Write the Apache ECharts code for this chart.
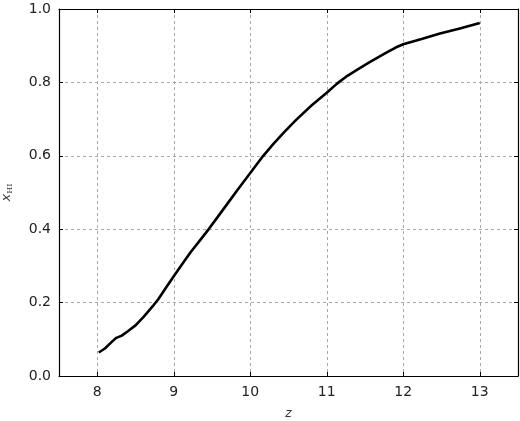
<!DOCTYPE html>
<html>
<head>
<meta charset="UTF-8">
<title>x_HI vs z</title>
<script src="https://cdn.jsdelivr.net/npm/echarts@6/dist/echarts.min.js"></script>
</head>
<body style="margin:0;background:#fff;">
	<div id="chartDiv" style="width: 520px; height: 421px;"></div>
	<script type="text/javascript">
		// redshift and ionized fraction
		var z = [8.02, 8.1, 8.2, 8.25, 8.32, 8.4, 8.5, 8.6, 8.74, 8.8, 8.9,
				9.0, 9.1, 9.22, 9.34, 9.46, 9.58, 9.7, 9.84, 10.0, 10.17,
				10.3, 10.45, 10.6, 10.8, 11.0, 11.13, 11.27, 11.4, 11.55,
				11.75, 11.9, 12.0, 12.24, 12.48, 12.74, 13.0];
		var xHI = [0.064, 0.075, 0.095, 0.104, 0.11, 0.122, 0.138, 0.16,
				0.194, 0.21, 0.241, 0.272, 0.302, 0.337, 0.369, 0.401,
				0.435, 0.469, 0.509, 0.553, 0.6, 0.632, 0.666, 0.698,
				0.737, 0.772, 0.796, 0.818, 0.835, 0.854, 0.878, 0.895,
				0.904, 0.918, 0.933, 0.947, 0.962];
		var xTicks = [8, 9, 10, 11, 12, 13];

		var points = [];
		for (var i = 0; i < z.length; i++) {
			points.push([z[i], xHI[i]]);
		}

		var chart = echarts.init(document.getElementById('chartDiv'));
		var font = 'DejaVu Sans';
		var gridLine = {
			show : true,
			lineStyle : {
				color : '#a8a8a8',
				type : [3, 3],
				width : 1
			}
		};
		var boxLine = {
			show : true,
			onZero : false,
			lineStyle : {
				color : '#000',
				width : 1.2
			}
		};
		var tick = {
			show : true,
			inside : true,
			length : 4,
			lineStyle : {
				color : '#000'
			}
		};
		var xTick = {
			show : true,
			inside : true,
			length : 4,
			customValues : xTicks,
			lineStyle : {
				color : '#000'
			}
		};

		chart.setOption({
			animation : false,
			grid : {
				left : 59,
				right : 2,
				top : 9,
				bottom : 45,
				containLabel : false,
				outerBoundsMode : 'none'
			},
			xAxis : [ {
				type : 'value',
				min : 7.5,
				max : 13.5,
				name : 'z',
				nameLocation : 'middle',
				nameGap : 32,
				nameTextStyle : {
					fontFamily : font,
					fontStyle : 'italic',
					fontSize : 12,
					color : '#333'
				},
				axisLine : boxLine,
				axisTick : xTick,
				axisLabel : {
					customValues : xTicks,
					margin : 9,
					fontFamily : font,
					fontSize : 14,
					color : '#222'
				},
				splitLine : gridLine
			}, {
				type : 'value',
				position : 'top',
				min : 7.5,
				max : 13.5,
				axisLine : boxLine,
				axisTick : xTick,
				axisLabel : {
					show : false
				},
				splitLine : {
					show : false
				}
			} ],
			yAxis : [ {
				type : 'value',
				min : 0,
				max : 1,
				interval : 0.2,
				name : '{i|x}{s|HI}',
				nameLocation : 'middle',
				nameGap : 45,
				nameRotate : 90,
				nameTextStyle : {
					rich : {
						i : {
							fontFamily : font,
							fontStyle : 'italic',
							fontSize : 13,
							color : '#333'
						},
						s : {
							fontFamily : 'DejaVu Serif',
							fontSize : 8,
							color : '#333',
							padding : [6, 0, 0, 0]
						}
					}
				},
				axisLine : boxLine,
				axisTick : tick,
				axisLabel : {
					margin : 8,
					fontFamily : font,
					fontSize : 14,
					color : '#222',
					formatter : function(v) {
						return v.toFixed(1);
					}
				},
				splitLine : gridLine
			}, {
				type : 'value',
				position : 'right',
				min : 0,
				max : 1,
				interval : 0.2,
				axisLine : boxLine,
				axisTick : tick,
				axisLabel : {
					show : false
				},
				splitLine : {
					show : false
				}
			} ],
			series : [ {
				type : 'line',
				data : points,
				showSymbol : false,
				smooth : false,
				lineStyle : {
					color : '#000',
					width : 2.6
				}
			} ]
		});
	</script>
</body>
</html>
